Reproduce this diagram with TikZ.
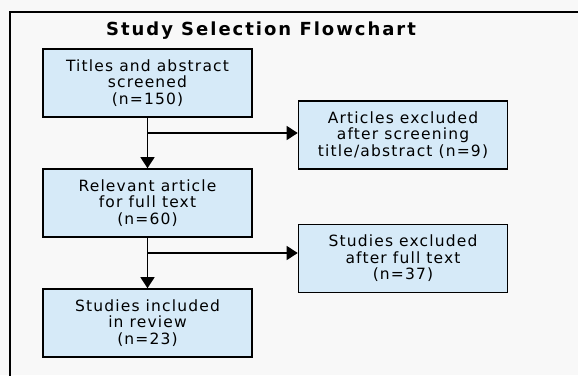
\documentclass[tikz,border=0pt]{standalone}
\usepackage{fontspec}
\setmainfont{DejaVu Sans}[LetterSpace=7.5]
\usetikzlibrary{arrows.meta}

\definecolor{boxblue}{RGB}{214,234,248}
\definecolor{pagegrey}{RGB}{248,248,248}

\begin{document}
\begin{tikzpicture}[x=1pt,y=-1pt,line width=1.6pt,
  stagebox/.style={rectangle, draw=black, fill=boxblue, minimum width=209pt, minimum height=68pt, align=center, font=\fontsize{15.5}{16.5}\selectfont},
  flow/.style={-{Triangle[width=14pt,length=11pt]}, line width=1.4pt}]
\fill[pagegrey] (0,0) rectangle (578,375);
\useasboundingbox (0,0) rectangle (578,375);
% outer frame, runs off the page
\draw[line width=2pt] (600,12) -- (10,12) -- (10,400);
\node(title) at (261,31){\addfontfeature{LetterSpace=11}\fontsize{18}{18}\selectfont\bfseries Study Selection Flowchart};

\node[stagebox] (screened) at (147.5,83){Titles and abstract\\screened\\(n=150)};
\node[stagebox] (excl1) at (403,135){Articles excluded\\after screening\\title/abstract (n=9)};
\node[stagebox] (fulltext) at (147.5,203){Relevant article\\for full text\\(n=60)};
\node[stagebox] (excl2) at (403,258.5){Studies excluded\\after full text\\(n=37)};
\node[stagebox] (included) at (147.5,323){Studies included\\in review\\(n=23)};

\coordinate (split1) at (147.5,133);
\coordinate (split2) at (147.5,253);

\draw[flow] (screened) to (fulltext);
\draw[flow] (split1) to (split1 -| excl1.west);
\draw[flow] (fulltext) to (included);
\draw[flow] (split2) to (split2 -| excl2.west);

\end{tikzpicture}
\end{document}
